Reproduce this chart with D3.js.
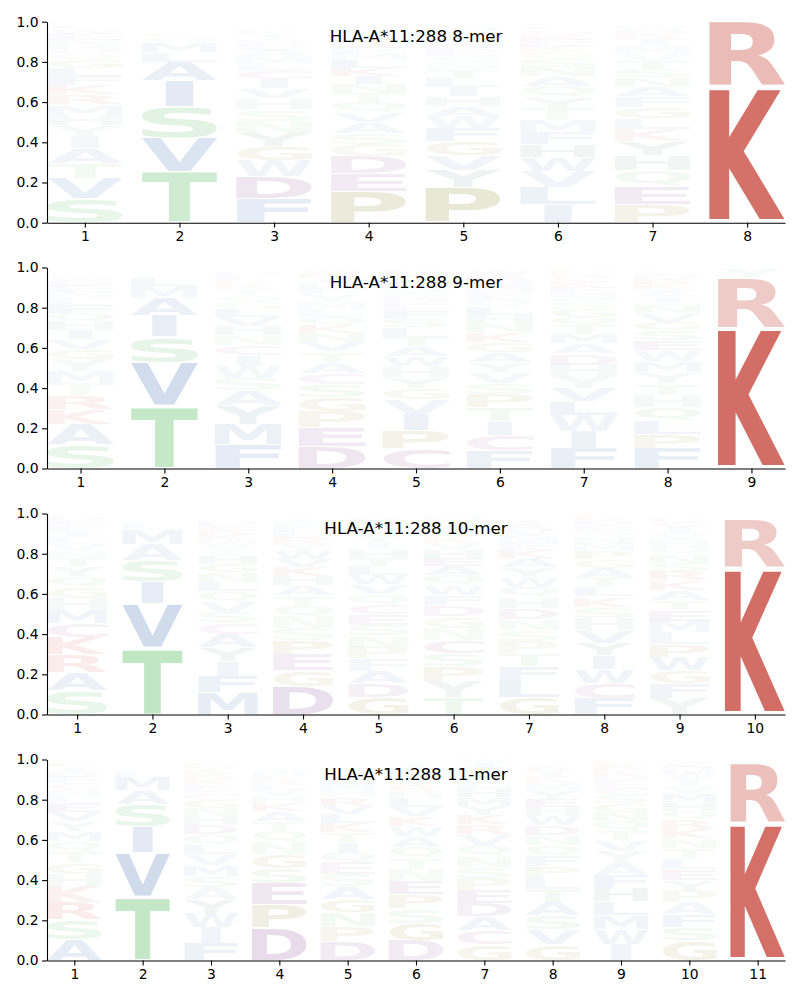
<!DOCTYPE html>
<html><head><meta charset="utf-8">
<script src="https://cdn.jsdelivr.net/npm/d3@7"></script>
<style>body{margin:0;background:#fff}</style>
</head><body>
<svg id="chart" width="800" height="1000"></svg>
<script>
const titles = ["HLA-A*11:288 8-mer","HLA-A*11:288 9-mer","HLA-A*11:288 10-mer","HLA-A*11:288 11-mer"];
const yTickValues = [0, 0.2, 0.4, 0.6, 0.8, 1.0];

// each column: letters from bottom to top, with their heights (probabilities)
const letters8 = ["SVTAIYHMRKFLGQDNEWCP","TVSIALMQGCFYNKRED","FDWGYNSHVICLMAEQTKRP","PEDGSAVQTNIKLMFRHYWC","PYVGFWAHILTSQEDMKRNC","ILVWHFMTYQANSGKERDCP","PEQHYKLGFANSTVMIRDWC","KR"];
const values8 = [
 [.12,.1,.075,.075,.06,.055,.052,.05,.05,.048,.045,.04,.04,.035,.035,.03,.03,.025,.02,.015],
 [.255,.168,.154,.127,.096,.05,.045,.03,.02,.012,.012,.01,.008,.006,.005,.004,.004],
 [.12,.11,.08,.07,.065,.06,.058,.055,.05,.046,.04,.038,.035,.032,.03,.025,.022,.018,.015,.01],
 [.155,.09,.085,.06,.055,.055,.05,.05,.045,.045,.04,.04,.04,.03,.03,.03,.025,.025,.02,.015],
 [.175,.085,.075,.068,.065,.06,.05,.05,.048,.045,.04,.035,.035,.03,.028,.025,.02,.02,.02,.015],
 [.09,.085,.082,.068,.064,.062,.06,.058,.056,.054,.05,.045,.04,.035,.03,.03,.025,.022,.02,.015],
 [.092,.09,.078,.076,.068,.06,.056,.054,.052,.05,.045,.042,.04,.038,.035,.03,.028,.025,.02,.015],
 [.675,.325]
];
const letters9 = ["SAKRTMYGVIHQFLNEDWCP","TVSIAMLQFGCNYE","FMYASWICNHVLGQTKREDP","DEPGSCATVNKQLMYFHIRW","CPIVGYHWATLSFEDNQMKR","FCITPSVYAGKNHLQEMDRW","FIWLVYHDAMTQGSNEKCRP","FPLQHTYMWESGVNIAKRDC","KRYHL"];
const values9 = [
 [.12,.1,.075,.07,.06,.06,.058,.05,.048,.045,.045,.04,.04,.035,.03,.03,.025,.02,.015,.015],
 [.31,.215,.13,.105,.087,.06,.04,.012,.01,.008,.006,.006,.005,.005],
 [.12,.1,.095,.075,.06,.06,.055,.05,.048,.045,.045,.04,.035,.035,.03,.025,.02,.02,.02,.015],
 [.11,.095,.08,.07,.062,.058,.056,.05,.048,.045,.04,.04,.038,.035,.035,.03,.03,.025,.025,.02],
 [.1,.092,.078,.075,.055,.055,.052,.05,.05,.048,.045,.042,.04,.035,.035,.03,.03,.028,.025,.02],
 [.09,.075,.07,.068,.065,.055,.055,.05,.05,.05,.048,.045,.042,.04,.038,.035,.035,.03,.025,.02],
 [.1,.085,.078,.07,.065,.06,.058,.055,.05,.048,.045,.04,.04,.038,.035,.03,.03,.025,.02,.02],
 [.1,.07,.068,.066,.06,.058,.056,.055,.054,.05,.048,.045,.042,.04,.038,.035,.03,.025,.025,.02],
 [.70,.25,.04,.006,.004]
];
const letters10 = ["SARKCMHGQYTNVLIFEDP","TVISAMLQCFGNY","MFIYACSVQLNGHTWKREDP","DGEPSNQTAHKVWYRLFMIC","GDAFPNSECQVWLTHIYKMR","TYPSCNGDFWQAEHVKLIRM","GLFTPSNDHQWYAKEMVRIC","FCWIYVHSKLTAGPMNQEDR","YFGWPLMETAKRSNQHVICD","KRYHL"];
const values10 = [
 [.12,.09,.09,.085,.068,.066,.06,.058,.052,.05,.04,.035,.035,.035,.03,.028,.025,.02,.015],
 [.33,.22,.11,.105,.08,.075,.03,.012,.01,.008,.006,.005,.005],
 [.11,.08,.075,.07,.065,.056,.054,.052,.05,.048,.046,.044,.04,.036,.034,.03,.028,.024,.02,.015],
 [.14,.08,.078,.07,.06,.058,.055,.05,.05,.048,.045,.04,.04,.035,.03,.03,.025,.02,.02,.015],
 [.085,.07,.062,.06,.058,.056,.055,.052,.05,.05,.048,.046,.045,.042,.04,.038,.035,.03,.03,.025],
 [.085,.08,.075,.065,.065,.06,.058,.055,.05,.05,.048,.045,.04,.04,.035,.035,.03,.025,.02,.02],
 [.085,.08,.075,.062,.06,.058,.056,.055,.052,.05,.05,.048,.045,.04,.038,.035,.03,.025,.02,.015],
 [.08,.076,.07,.066,.064,.062,.06,.058,.05,.05,.048,.045,.042,.04,.038,.035,.03,.028,.025,.02],
 [.078,.076,.066,.065,.062,.06,.058,.055,.05,.05,.048,.045,.042,.04,.038,.035,.035,.03,.025,.02],
 [.73,.245,.012,.007,.006]
];
const letters11 = ["ASRKHGTQMYVELNCFDIPW","TVISAMLQNGCFY","FIWYASMVLQDHNGCEKRTP","DPESGNQTAKHVLRFMYIWC","DPNGASEQITKLVRHMYFWC","DGSPENTQAWKVLHRYMFIC","GCADEPSNQVRKYMHLTFIW","GVSATLPFQNDWHEYMKIRC","IWMLHFAYVTQNGSCEDKRP","GSFAPYELTNKRQHMVIWDC","KRYHL"];
const values11 = [
 [.105,.1,.085,.08,.06,.058,.055,.05,.05,.048,.045,.04,.038,.035,.032,.03,.028,.025,.02,.015],
 [.315,.22,.13,.113,.07,.065,.035,.015,.01,.008,.006,.006,.005],
 [.085,.078,.072,.068,.06,.058,.055,.052,.05,.048,.046,.044,.042,.04,.038,.035,.035,.03,.028,.02],
 [.16,.12,.105,.075,.068,.06,.055,.05,.048,.04,.035,.03,.028,.025,.02,.02,.018,.015,.01,.01],
 [.095,.075,.07,.065,.062,.06,.058,.055,.05,.048,.045,.045,.042,.04,.038,.035,.03,.025,.02,.015],
 [.1,.085,.072,.07,.066,.06,.056,.055,.054,.05,.048,.045,.04,.035,.032,.03,.03,.025,.022,.015],
 [.08,.07,.068,.065,.064,.06,.058,.056,.054,.052,.05,.048,.045,.042,.04,.038,.035,.03,.025,.02],
 [.08,.072,.07,.068,.062,.06,.055,.054,.052,.05,.048,.046,.044,.042,.04,.038,.03,.028,.025,.02],
 [.08,.075,.07,.068,.066,.064,.06,.058,.055,.05,.048,.045,.042,.04,.038,.035,.03,.025,.025,.02],
 [.1,.065,.062,.06,.058,.056,.054,.052,.05,.05,.048,.046,.044,.042,.04,.038,.035,.03,.03,.025],
 [.68,.30,.01,.005,.005]
];

const panels = [
  {title: titles[0], letters: letters8, values: values8},
  {title: titles[1], letters: letters9, values: values9},
  {title: titles[2], letters: letters10, values: values10},
  {title: titles[3], letters: letters11, values: values11}
];

// styles
const colorOf = {
  K:"#d36e66", R:"#d36e66",
  S:"#7ccb84", T:"#7ccb84", N:"#7ccb84", Q:"#7ccb84",
  A:"#6a8fc4", V:"#6a8fc4", I:"#6a8fc4", L:"#6a8fc4", M:"#6a8fc4", F:"#6a8fc4", W:"#6a8fc4",
  H:"#6aa09a", Y:"#6aa09a",
  D:"#9a62a4", E:"#9a62a4", C:"#ad6c9a",
  P:"#a9a15a", G:"#a9a15a"
};
const FONT = "DejaVu Sans";
const L = 47, Rr = 785, H = 201;
const tops = [21.7, 267.5, 513.5, 759.5];

const cvs = document.createElement("canvas");
const ctx = cvs.getContext("2d");
ctx.font = `bold 100px "${FONT}"`;
const inkCache = {};
function ink(ch){
  if (!inkCache[ch]) {
    const m = ctx.measureText(ch);
    inkCache[ch] = {l: m.actualBoundingBoxLeft, r: m.actualBoundingBoxRight, a: m.actualBoundingBoxAscent, d: m.actualBoundingBoxDescent};
  }
  return inkCache[ch];
}
const eInk = ink("E");
const eWidth = eInk.l + eInk.r;

const svg = d3.select("#chart");

panels.forEach((p, i) => {
  const n = p.letters.length;
  const top = tops[i], bottom = top + H;
  const x = d3.scaleLinear().domain([0.6, n + 0.4]).range([L, Rr]);
  const y = d3.scaleLinear().domain([0, 1]).range([bottom, top]);
  const g = svg.append("g");

  p.letters.forEach((str, ci) => {
    const pos = ci + 1;
    let base = 0;
    p.values[ci].forEach((v, k) => {
      const ch = str[k];
      const pad = v * 0.025;
      const x0 = x(pos - 0.4), x1 = x(pos + 0.4);
      const boxW = x1 - x0;
      const yb = y(base + pad), yt = y(base + v - pad);
      const m = ink(ch);
      const w = m.l + m.r;
      const sx = Math.min(boxW / w, boxW / eWidth);
      const sy = (yb - yt) / (m.a + m.d);
      const xs = x0 + (boxW - w * sx) / 2;
      g.append("text").text(ch)
        .attr("font-family", FONT).attr("font-weight", "bold").attr("font-size", 100)
        .attr("transform", `translate(${xs},${yt}) scale(${sx},${sy}) translate(${m.l},${m.a})`)
        .attr("fill", colorOf[ch])
        .attr("fill-opacity", Math.min(1, 1.45 * v));
      base += v;
    });
  });

  const yAxis = d3.axisLeft(y).tickValues(yTickValues).tickFormat(d3.format(".1f"))
    .tickSize(4.9).tickSizeOuter(0).tickPadding(3.5);
  const xAxis = d3.axisBottom(x).tickValues(d3.range(1, n + 1)).tickFormat(d3.format("d"))
    .tickSize(4.9).tickSizeOuter(0).tickPadding(3.5);
  const ga = svg.append("g").attr("transform", `translate(${L},0)`).call(yAxis);
  const gb = svg.append("g").attr("transform", `translate(0,${bottom})`).call(xAxis);
  [ga, gb].forEach(a => {
    a.attr("font-family", null).attr("font-size", null);
    a.selectAll("text").style("font-family", FONT).style("font-size", "13.9px").attr("fill", "#000");
    a.selectAll("line,path").attr("stroke", "#000").attr("stroke-width", 1.1);
  });

  svg.append("text").text(p.title)
    .attr("x", (L + Rr) / 2).attr("y", top + 20.5)
    .attr("text-anchor", "middle")
    .style("font-family", FONT).style("font-size", "16.7px").attr("fill", "#000");
});
</script>
</body></html>
